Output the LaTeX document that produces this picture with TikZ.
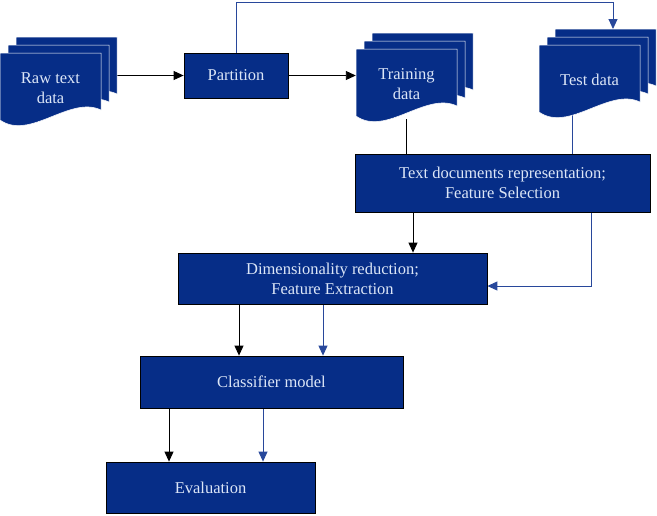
\documentclass[tikz,border=0pt]{standalone}
\usepackage{fontspec}
\setmainfont{Liberation Serif}
\usetikzlibrary{arrows.meta}
\definecolor{boxblue}{RGB}{6,45,135}
\definecolor{boxtext}{RGB}{220,230,247}
\definecolor{linkblue}{RGB}{40,72,155}
\pgfdeclarelayer{links}
\pgfsetlayers{links,main}
\tikzset{
  procbox/.style = {rectangle, draw=black, fill=boxblue, text=boxtext,
    align=center, inner sep=0pt, line width=0.8pt,
    font=\fontsize{16.5}{20}\selectfont},% step of the process
  doctext/.style = {rectangle, inner sep=0pt, text=boxtext, align=center,
    minimum width=101pt, minimum height=70pt,
    font=\fontsize{16.5}{20}\selectfont},% text on the front page
  docpage/.style = {fill=boxblue, draw=white, line width=0.5pt},% one page of a stack
  blackline/.style = {draw=black, line width=0.9pt},
  blueline/.style = {draw=linkblue, line width=0.9pt}
}
% stack of three pages: name, left x, top y, text
\newcommand{\docstack}[4]{%
  \foreach \k in {2,1,0}{
    \begin{scope}[shift={(#2+8*\k,#3-8*\k)}]
      \path[docpage] (0,0) -- (101,0) -- (101,57)
        .. controls (70,42) and (30,88) .. (0,67) -- cycle;
    \end{scope}
  }
  \node[doctext] (#1) at (#2+50.5,#3+35) {#4};
}

\begin{document}
\begin{tikzpicture}[x=1pt,y=-1pt,>={Triangle[length=10pt,width=9pt]}]
\useasboundingbox (0,0) rectangle (657,515);

\docstack{rawdata}{0}{53}{Raw text\\data}
\docstack{traindata}{356}{49}{Training\\data}
\docstack{testdata}{539}{45}{Test data}

\node[procbox, minimum width=104pt, minimum height=45pt] (partition) at (236,75.5) {Partition};
\node[procbox, minimum width=295pt, minimum height=58pt] (textrep) at (502.5,183)
  {Text documents representation;\\Feature Selection};
\node[procbox, minimum width=309pt, minimum height=51pt] (dimred) at (332.5,278.5)
  {Dimensionality reduction;\\Feature Extraction};
\node[procbox, minimum width=263pt, minimum height=52pt] (classifier) at (271.5,382) {Classifier model};
\node[procbox, minimum width=209pt, minimum height=51pt] (evaluation) at (210.5,487.5) {Evaluation};

\coordinate (topturn) at (613,2);
\coordinate (testin) at (613,29);
\coordinate (trainout) at ([xshift=-89.5pt]textrep.south);
\coordinate (testout) at ([xshift=88.5pt]textrep.south);
\coordinate (dimblack) at ([xshift=-93.5pt]dimred.south);
\coordinate (dimblue) at ([xshift=-9.5pt]dimred.south);
\coordinate (clsblack) at ([xshift=-102.5pt]classifier.south);
\coordinate (clsblue) at ([xshift=-8.5pt]classifier.south);

\begin{pgfonlayer}{links}
  \draw[blackline,->] (rawdata.east |- partition.west) -- (partition.west);
  \draw[blackline,->] (partition.east) -- (partition.east -| traindata.west);
  \draw[blueline,->] (partition.north) |- (topturn) -- (testin);
  \draw[blackline] (traindata.south) -- (traindata.south |- textrep.north);
  \draw[blueline] ([xshift=-17.5pt]testdata.south) -- ([xshift=-17.5pt]testdata.south |- textrep.north);
  \draw[blackline,->] (trainout) -- (trainout |- dimred.north);
  \draw[blueline,->] (testout) |- ([yshift=-7.5pt]dimred.east);
  \draw[blackline,->] (dimblack) -- (dimblack |- classifier.north);
  \draw[blueline,->] (dimblue) -- (dimblue |- classifier.north);
  \draw[blackline,->] (clsblack) -- (clsblack |- evaluation.north);
  \draw[blueline,->] (clsblue) -- (clsblue |- evaluation.north);
\end{pgfonlayer}
\end{tikzpicture}
\end{document}
